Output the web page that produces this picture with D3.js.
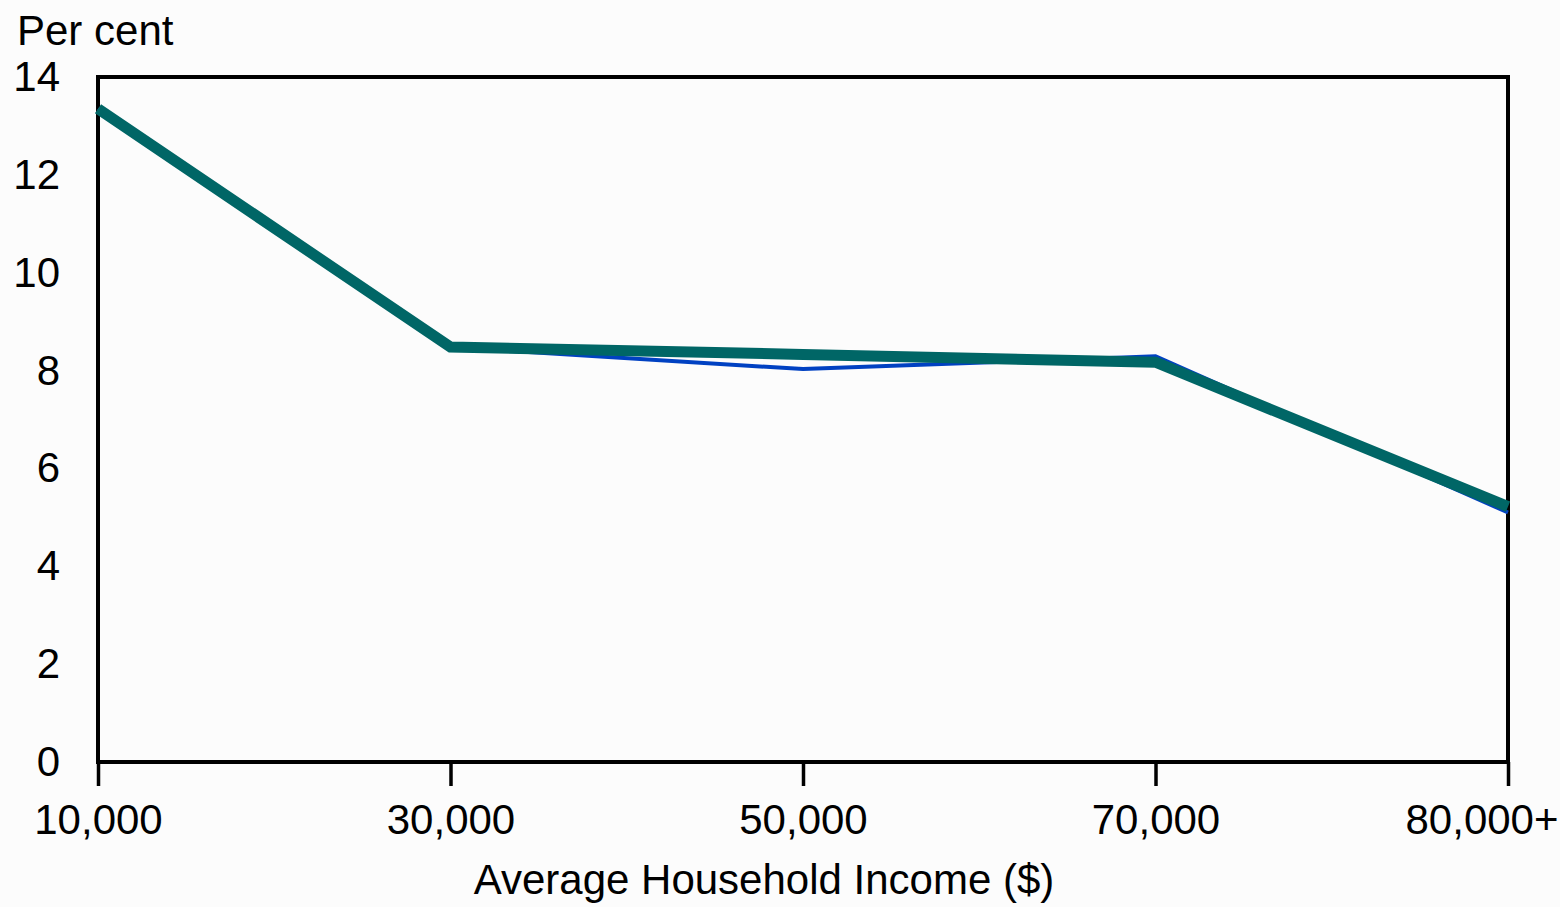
<!DOCTYPE html>
<html>
<head>
  <meta charset="utf-8">
  <title>Per cent by Average Household Income</title>
  <script src="https://d3js.org/d3.v7.min.js"></script>
  <style type="text/css">
    body { margin: 0; background: #fcfcfc; }
    svg { display: block; background: #fcfcfc; }
    text { font-family: "Liberation Sans", Arial, sans-serif; fill: #000; }
    .axis path { display: none; }
    .axis text { font-size: 42px; }
  </style>
</head>
<body>
  <svg width="1560" height="907"></svg>
  <script type="text/javascript">
    // categories along the bottom
    var incomes = ["10,000", "30,000", "50,000", "70,000", "80,000+"];
    // thick teal line
    var tealValues = [13.35, 8.48, 8.33, 8.17, 5.22];
    // thin blue line, mostly hidden behind the teal one
    var blueValues = [13.35, 8.48, 8.03, 8.29, 5.1];
    var yTicks = [0, 2, 4, 6, 8, 10, 12, 14];

    var svg = d3.select("svg"),
      margin = { top: 77, right: 52, bottom: 145, left: 98 },
      width = +svg.attr("width") - margin.left - margin.right,
      height = +svg.attr("height") - margin.top - margin.bottom,
      g = svg.append("g").attr("transform", "translate(" + margin.left + "," + margin.top + ")");

    var x = d3.scalePoint()
      .domain(incomes)
      .range([0, width]);

    var y = d3.scaleLinear()
      .domain([0, 14])
      .range([height, 0]);

    // y labels, no tick marks
    g.append("g")
      .attr("class", "axis axis--y")
      .call(d3.axisLeft(y).tickValues(yTicks).tickSize(0).tickPadding(38));

    // x ticks hanging below the frame
    var xAxis = g.append("g")
      .attr("class", "axis axis--x")
      .attr("transform", "translate(0," + height + ")")
      .call(d3.axisBottom(x).tickSize(24).tickSizeOuter(0).tickPadding(18));

    xAxis.selectAll("line")
      .attr("stroke", "#000")
      .attr("stroke-width", 3.5);

    // last label sits against the right edge
    xAxis.selectAll("text")
      .attr("text-anchor", function(d, i) {
        return i === incomes.length - 1 ? "end" : "middle";
      })
      .attr("dx", function(d, i) {
        return i === incomes.length - 1 ? 50 : 0;
      });

    // plot frame
    g.append("rect")
      .attr("x", 0)
      .attr("y", 0)
      .attr("width", width)
      .attr("height", height)
      .attr("fill", "none")
      .attr("stroke", "#000")
      .attr("stroke-width", 4);

    var line = d3.line()
      .x(function(d, i) { return x(incomes[i]); })
      .y(function(d) { return y(d); });

    g.append("path")
      .datum(blueValues)
      .attr("fill", "none")
      .attr("stroke", "#0041c2")
      .attr("stroke-width", 4)
      .attr("d", line);

    g.append("path")
      .datum(tealValues)
      .attr("fill", "none")
      .attr("stroke", "#006666")
      .attr("stroke-width", 11)
      .attr("d", line);

    svg.append("text")
      .attr("x", 17)
      .attr("y", 45)
      .style("font-size", "42px")
      .text("Per cent");

    svg.append("text")
      .attr("x", 764)
      .attr("y", 894)
      .attr("text-anchor", "middle")
      .style("font-size", "42px")
      .text("Average Household Income ($)");
  </script>
</body>
</html>
